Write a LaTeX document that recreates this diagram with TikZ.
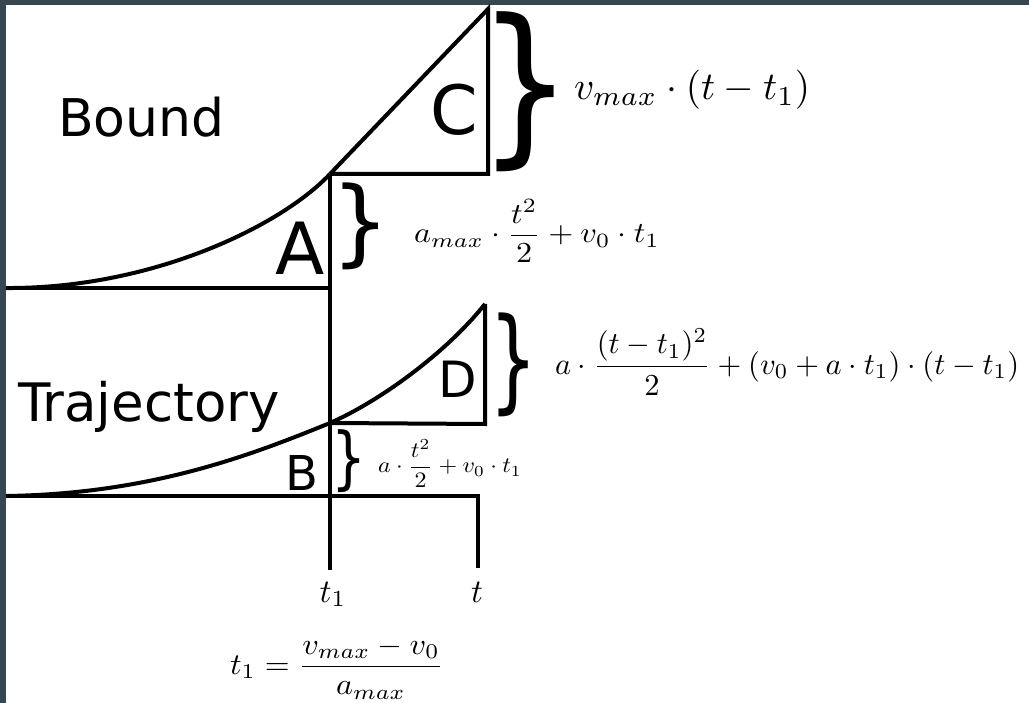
\documentclass[tikz,border=0pt]{standalone}
\usepackage{fontspec}
\usepackage{graphicx}
\newfontfamily\dv{DejaVu Sans}
\definecolor{framec}{HTML}{36474F}
\tikzset{
  ln/.style={line width=4pt, line join=miter},
  lbl/.style={inner sep=0pt, outer sep=0pt},
  mth/.style={inner sep=0pt, outer sep=0pt, anchor=west},
  brc/.style={inner sep=0pt, outer sep=0pt, anchor=north west}
}
\begin{document}
\begin{tikzpicture}[x=1pt,y=-1pt]
\useasboundingbox (0,0) rectangle (1029,703);
\fill[framec] (0,0) rectangle (1029,703);
\fill[white] (6,5) rectangle (1029,703);

% coordinates
\coordinate (a0) at (6,288);
\coordinate (ab) at (330,288);
\coordinate (k) at (330,174);
\coordinate (ct) at (488,9);
\coordinate (cb) at (488,174);
\coordinate (vb) at (330,570);
\coordinate (b0) at (6,496);
\coordinate (bt) at (478,496);
\coordinate (tb) at (478,568);
\coordinate (m) at (330,423);
\coordinate (dt) at (485,304);
\coordinate (db) at (485,424);

% Bound
\draw[ln] (a0) -- (ab);
\draw[ln] (a0) .. controls (150,289) and (280,227) .. (k);
\draw[ln] (k) -- (ct) -- (cb) -- (k);
\draw[ln] (k) -- (vb);

% Trajectory
\draw[ln] (b0) -- (bt) -- (tb);
\draw[ln] (b0) .. controls (150,494) and (250,455.6) .. (m) .. controls (380,401) and (446,353) .. (dt);
\draw[ln] (dt) -- (db) -- (m);

% labels
\node[lbl, anchor=base west, font=\dv\fontsize{52}{52}\selectfont] (bound) at (58,137) {Bound};
\node[lbl, anchor=base west, font=\dv\fontsize{53}{53}\selectfont] (traj) at (18,422) {Trajectory};
\node[lbl, anchor=base, font=\dv\fontsize{72}{72}\selectfont] (la) at (300,275) {A};
\node[lbl, anchor=base, font=\dv\fontsize{68}{68}\selectfont] (lc) at (454,135) {C};
\node[lbl, anchor=base, font=\dv\fontsize{48}{48}\selectfont] (lb) at (302,490) {B};
\node[lbl, anchor=base, font=\dv\fontsize{50}{50}\selectfont] (ld) at (458,398) {D};

% braces
\node[brc] (brC) at (478,12) {\resizebox*{94pt}{160pt}{\dv\}}};
\node[brc] (brA) at (331,183) {\resizebox*{58.4pt}{87pt}{\dv\}}};
\node[brc] (brD) at (489.6,313) {\resizebox*{48.2pt}{104pt}{\dv\}}};
\node[brc] (brB) at (331.6,430) {\resizebox*{35pt}{63pt}{\dv\}}};

% formulas
\node[mth, scale=3.92] (fc) at (574,90) {$v_{max}\cdot(t-t_1)$};
\node[mth, xscale=3.22, yscale=2.9] (fa) at (414,231) {$a_{max}\cdot\displaystyle\frac{t^2}{2}+v_0\cdot t_1$};
\node[mth, xscale=2.4, yscale=2.2] (fb) at (378,464) {$a\cdot\displaystyle\frac{t^2}{2}+v_0\cdot t_1$};
\node[mth, scale=3.05] (fd) at (555,362) {$a\cdot{\displaystyle\frac{(t-t_1)^2}{2}}+(v_0+a\cdot t_1)\cdot(t-t_1)$};
\node[lbl, anchor=base, scale=3.3] (t1) at (333,602) {$t_1$};
\node[lbl, anchor=base, scale=3.3] (t) at (477,602) {$t$};
\node[mth, xscale=3.2, yscale=3.0] (ft) at (230,668) {$t_1=\displaystyle\frac{v_{max}-v_0}{a_{max}}$};
\end{tikzpicture}
\end{document}
